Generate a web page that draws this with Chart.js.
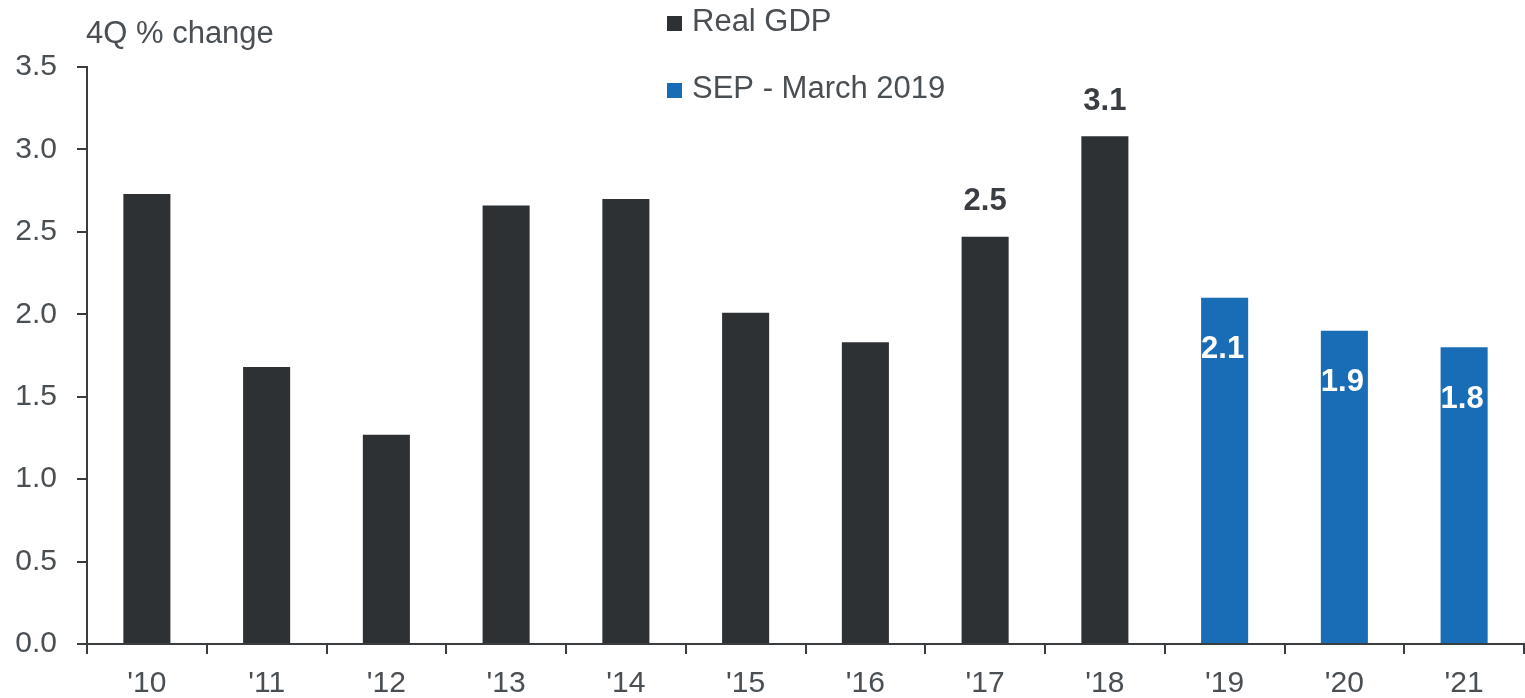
<!DOCTYPE html>
<html>
<head>
<meta charset="utf-8">
<script src="https://cdn.jsdelivr.net/npm/chart.js@4.4.0/dist/chart.umd.min.js"></script>
<style>
    body { margin: 0; background: #fff; }
    #wrap { width: 1525px; height: 698px; }
</style>
</head>
<body>
<div id="wrap"><canvas id="gdp-chart" width="1525" height="698"></canvas></div>
<script>
const years = ["'10", "'11", "'12", "'13", "'14", "'15", "'16", "'17", "'18", "'19", "'20", "'21"];
const realGdp = [2.73, 1.68, 1.27, 2.66, 2.70, 2.01, 1.83, 2.47, 3.08, null, null, null];
const sepMarch2019 = [null, null, null, null, null, null, null, null, null, 2.1, 1.9, 1.8];
const labelledGdpYears = ["'17", "'18"];
const yTicks = [0, 0.5, 1.0, 1.5, 2.0, 2.5, 3.0, 3.5];

const textColor = '#4a4f54';
const axisColor = '#3a3d40';
const gdpColor = '#2e3134';
const sepColor = '#186db6';
const font = 'Arial, "Liberation Sans", sans-serif';

// value labels: dark above real GDP bars, white inside SEP bars
const valueLabels = {
    id: 'valueLabels',
    afterDatasetsDraw(chart) {
        const ctx = chart.ctx;
        ctx.save();
        ctx.font = 'bold 31px ' + font;
        ctx.textAlign = 'center';
        ctx.textBaseline = 'middle';
        chart.data.datasets.forEach((ds, i) => {
            chart.getDatasetMeta(i).data.forEach((bar, j) => {
                const v = ds.data[j];
                if (v == null) return;
                if (i === 0) {
                    if (!labelledGdpYears.includes(years[j])) return;
                    ctx.fillStyle = '#3a3d41';
                    ctx.fillText(v.toFixed(1), bar.x, bar.y - 35);
                } else {
                    ctx.fillStyle = '#ffffff';
                    ctx.fillText(v.toFixed(1), bar.x - 2, bar.y + 52);
                }
            });
        });
        ctx.restore();
    }
};

// y title and stacked legend in the top area
const topText = {
    id: 'topText',
    afterDraw(chart) {
        const ctx = chart.ctx;
        ctx.save();
        ctx.font = '31px ' + font;
        ctx.textBaseline = 'alphabetic';
        ctx.fillStyle = textColor;
        ctx.textAlign = 'left';
        ctx.fillText('4Q % change', 86, 43);

        const rows = [31, 98];
        chart.data.datasets.forEach((ds, i) => {
            const base = rows[i];
            ctx.fillStyle = ds.backgroundColor;
            ctx.fillRect(667, base - 15, 15, 15);
            ctx.fillStyle = textColor;
            ctx.fillText(ds.label, 692, base);
        });
        ctx.restore();
    }
};

new Chart(document.getElementById('gdp-chart'), {
    type: 'bar',
    data: {
        labels: years,
        datasets: [
            {
                label: 'Real GDP',
                data: realGdp,
                backgroundColor: gdpColor,
                grouped: false,
                barPercentage: 0.393,
                categoryPercentage: 1
            },
            {
                label: 'SEP - March 2019',
                data: sepMarch2019,
                backgroundColor: sepColor,
                grouped: false,
                barPercentage: 0.393,
                categoryPercentage: 1
            }
        ]
    },
    options: {
        responsive: false,
        animation: false,
        layout: { padding: { top: 67, right: 1, left: 0, bottom: 0 } },
        plugins: {
            legend: { display: false },
            tooltip: { enabled: false }
        },
        scales: {
            x: {
                afterFit: scale => { scale.height = 54; },
                grid: {
                    offset: true,
                    drawOnChartArea: false,
                    drawTicks: true,
                    tickLength: 10,
                    color: axisColor,
                    lineWidth: 2
                },
                border: { display: true, color: axisColor, width: 2 },
                ticks: {
                    color: textColor,
                    font: { family: font, size: 30 },
                    padding: 12,
                    maxRotation: 0
                }
            },
            y: {
                min: 0,
                max: 3.5,
                afterFit: scale => { scale.width = 87; },
                afterBuildTicks: scale => {
                    scale.ticks = yTicks.map(v => ({ value: v }));
                },
                grid: {
                    drawOnChartArea: false,
                    drawTicks: true,
                    tickLength: 10,
                    color: axisColor,
                    lineWidth: 2
                },
                border: { display: true, color: axisColor, width: 2 },
                ticks: {
                    color: textColor,
                    font: { family: font, size: 30 },
                    padding: 20,
                    callback: value => value.toFixed(1)
                }
            }
        }
    },
    plugins: [valueLabels, topText]
});
</script>
</body>
</html>
